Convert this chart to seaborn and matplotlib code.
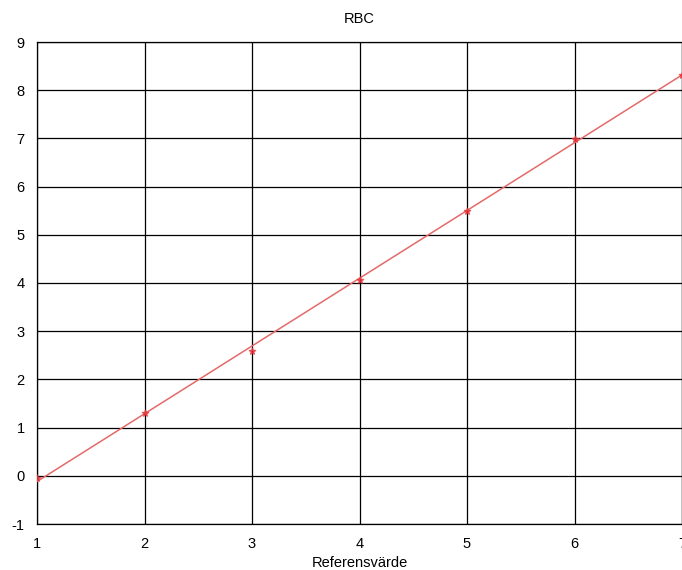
import numpy as np
import pandas as pd
import matplotlib
matplotlib.use("Agg")
import matplotlib.pyplot as plt
import seaborn as sns

# Data
referens = [1, 2, 3, 4, 5, 6, 7]
rbc = [-0.05, 1.30, 2.59, 4.06, 5.49, 6.99, 8.31]
df = pd.DataFrame({"Referensvärde": referens, "RBC": rbc})

sns.set_style("white")
plt.rcParams['font.family'] = ['Liberation Sans', 'DejaVu Sans']
plt.rcParams['axes.unicode_minus'] = False
plt.rcParams['text.color'] = 'black'
plt.rcParams['xtick.color'] = 'black'
plt.rcParams['ytick.color'] = 'black'
plt.rcParams['axes.labelcolor'] = 'black'

fig = plt.figure(figsize=(6.82, 5.70), dpi=100)
ax = fig.add_axes([37 / 682, 46 / 570, 645 / 682, 482 / 570])

sns.regplot(x="Referensvärde", y="RBC", data=df, ci=None, ax=ax, truncate=True,
            marker="*", color="#e8484c",
            scatter_kws={"s": 22, "color": "#e8353a", "zorder": 4},
            line_kws={"color": "#e46a6a", "linewidth": 1.1, "zorder": 3})

ax.set_xlim(1, 7)
ax.set_ylim(-1, 9)
ax.set_xticks(range(1, 8))
ax.set_yticks(range(-1, 10))
ax.grid(True, color="black", linewidth=0.9)
ax.set_axisbelow(True)
for s in ax.spines.values():
    s.set_color("black")
    s.set_linewidth(0.9)
ax.tick_params(length=0, labelsize=10.5, pad=9, colors="black")
ax.set_title("RBC", fontsize=10.5, pad=14, color="black")
ax.set_xlabel("Referensvärde", fontsize=10.5, labelpad=4, color="black")
ax.set_ylabel("")

fig.savefig("out.png", dpi=100)
